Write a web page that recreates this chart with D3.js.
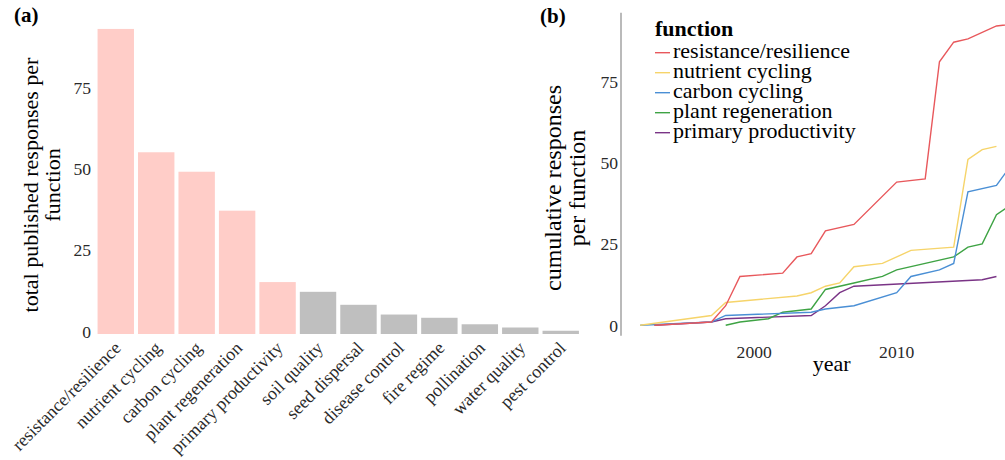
<!DOCTYPE html>
<html><head><meta charset="utf-8">
<script src="https://cdn.jsdelivr.net/npm/d3@7"></script>
<style>
body{margin:0;background:#fff}
svg text{font-family:"Liberation Serif","Times New Roman",serif}
</style></head><body>
<svg id="chart" width="1005" height="460"></svg>
<script>
// Panel (a): total responses per ecosystem function
const categories = ["resistance/resilience","nutrient cycling","carbon cycling","plant regeneration","primary productivity","soil quality","seed dispersal","disease control","fire regime","pollination","water quality","pest control"];
const totals = [94,56,50,38,16,13,9,6,5,3,2,1];
const yTicksA = [0,25,50,75];

// Panel (b): cumulative responses by year for the five main functions
const functions = ["resistance/resilience","nutrient cycling","carbon cycling","plant regeneration","primary productivity"];
const functionColors = ["#e8585c","#f6d46a","#4a8fd5","#3ea344","#7a3486"];
const resistanceYears = [1993,1997,1998,1999,2002,2003,2004,2005,2007,2010,2012,2013,2014,2015,2017,2019];
const resistanceCum   = [1,2,7,16,17,22,23,30,32,45,46,82,88,89,93,94];
const nutrientYears = [1992,1997,1998,2003,2004,2005,2006,2007,2009,2011,2014,2015,2016,2017];
const nutrientCum   = [1,4,8,10,11,13,14,19,20,24,25,52,55,56];
const carbonYears = [1992,1997,1998,2004,2005,2007,2010,2011,2013,2014,2015,2017,2018];
const carbonCum   = [1,2,4,5,6,7,11,16,18,20,42,44,50];
const regenYears = [1998,1999,2001,2002,2004,2005,2007,2009,2010,2014,2015,2016,2017,2018];
const regenCum   = [1,2,3,5,6,12,14,16,18,22,25,26,35,38];
const productivityYears = [1993,1997,1998,2004,2005,2006,2007,2016,2017];
const productivityCum   = [1,2,3,4,7,11,13,15,16];
const yTicksB = [0,25,50,75];
const xTicksB = [2000,2010];

const series = [
  {name: functions[0], years: resistanceYears, values: resistanceCum},
  {name: functions[1], years: nutrientYears, values: nutrientCum},
  {name: functions[2], years: carbonYears, values: carbonCum},
  {name: functions[3], years: regenYears, values: regenCum},
  {name: functions[4], years: productivityYears, values: productivityCum}
];
const color = d3.scaleOrdinal().domain(functions).range(functionColors);

const svg = d3.select("#chart");
svg.append("rect").attr("width",1005).attr("height",460).attr("fill","#fff");

// ---------- panel (a) ----------
const xA = d3.scaleBand().domain(categories).range([91.5, 585]).paddingInner(0.1).paddingOuter(0.15);
const yA = d3.scaleLinear().domain([0,75]).range([334, 90.6]);

svg.append("g").selectAll("rect").data(categories).join("rect")
  .attr("x", d => xA(d))
  .attr("width", xA.bandwidth())
  .attr("y", (d,i) => yA(totals[i]))
  .attr("height", (d,i) => yA(0) - yA(totals[i]))
  .attr("fill", d => functions.includes(d) ? "#ffcdc8" : "#bfbfbf");

svg.append("g").selectAll("text").data(yTicksA).join("text")
  .attr("x", 91).attr("y", d => yA(d) + 3.5)
  .attr("text-anchor","end").attr("font-size",17.6).attr("fill","#2a2a2a")
  .text(d => d);

svg.append("g").selectAll("text").data(categories).join("text")
  .attr("transform", d => `translate(${xA(d) + xA.bandwidth()/2 - 3},340) rotate(-45)`)
  .attr("dy","0.72em")
  .attr("text-anchor","end").attr("font-size",18).attr("fill","#2a2a2a")
  .text(d => d);

const titleA = svg.append("text")
  .attr("transform","translate(37.5,185) rotate(-90)")
  .attr("text-anchor","middle").attr("font-size",22).attr("fill","#000");
titleA.append("tspan").attr("x",0).attr("dy",0).text("total published responses per");
titleA.append("tspan").attr("x",0).attr("dy",22).text("function");

svg.append("text").attr("x",14).attr("y",22).attr("font-size",21).attr("font-weight","bold").text("(a)");

// ---------- panel (b) ----------
const xB = d3.scaleLinear().domain([2000,2010]).range([754.2, 896.7]);
const yB = d3.scaleLinear().domain([0,75]).range([328.5, 84.5]);

svg.append("line").attr("x1",621).attr("x2",621).attr("y1",12.7).attr("y2",335.7)
  .attr("stroke","#a9a9a9").attr("stroke-width",1.6);

svg.append("g").selectAll("text").data(yTicksB).join("text")
  .attr("x", 618).attr("y", d => yB(d) + 3.3)
  .attr("text-anchor","end").attr("font-size",17.6).attr("fill","#2a2a2a")
  .text(d => d);

svg.append("g").selectAll("text").data(xTicksB).join("text")
  .attr("x", d => xB(d)).attr("y", 358)
  .attr("text-anchor","middle").attr("font-size",17.6).attr("fill","#2a2a2a")
  .text(d => d);

svg.append("text").attr("x",831.7).attr("y",371).attr("text-anchor","middle")
  .attr("font-size",22).attr("fill","#000").text("year");

const titleB = svg.append("text")
  .attr("transform","translate(561,188) rotate(-90)")
  .attr("text-anchor","middle").attr("font-size",24).attr("fill","#000");
titleB.append("tspan").attr("x",0).attr("dy",0).text("cumulative responses");
titleB.append("tspan").attr("x",0).attr("dy",24).text("per function");

svg.append("text").attr("x",540).attr("y",23).attr("font-size",21).attr("font-weight","bold").text("(b)");

const line = d3.line().x(d => xB(d[0])).y(d => yB(d[1]));
svg.append("g").selectAll("path").data(series.slice().reverse()).join("path")
  .attr("d", s => line(s.years.map((y,i) => [y, s.values[i]])))
  .attr("fill","none").attr("stroke", s => color(s.name)).attr("stroke-width",1.4);

// legend
const legend = svg.append("g");
legend.append("text").attr("x",655).attr("y",36).attr("font-size",22).attr("font-weight","bold").text("function");
const items = legend.selectAll("g.item").data(functions).join("g").attr("class","item")
  .attr("transform",(d,i) => `translate(0,${52.7 + i*20})`);
items.append("line").attr("x1",655).attr("x2",670).attr("y1",0).attr("y2",0)
  .attr("stroke", d => color(d)).attr("stroke-width",1.4);
items.append("text").attr("x",673).attr("y",5).attr("font-size",22).attr("fill","#000").text(d => d);
</script>
</body></html>
